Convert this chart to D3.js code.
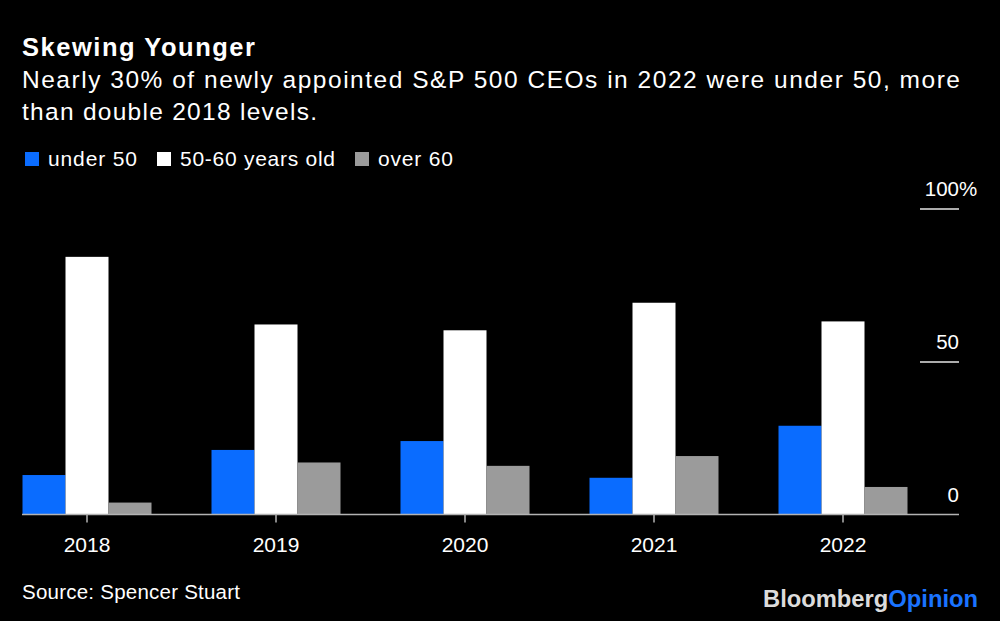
<!DOCTYPE html>
<html>
<head>
<meta charset="utf-8">
<script src="https://cdn.jsdelivr.net/npm/d3@7"></script>
<style>
  body { margin: 0; background: #000; }
  svg { display: block; font-family: "Liberation Sans", Arial, sans-serif; }
</style>
</head>
<body>
<div id="chart"></div>
<script>
// data (percent of newly appointed CEOs)
var years = ["2018", "2019", "2020", "2021", "2022"];
var seriesNames = ["under 50", "50-60 years old", "over 60"];
var under50 = [12.9, 21.1, 24.0, 12.0, 29.0];
var age50to60 = [84.2, 62.1, 60.2, 69.2, 63.1];
var over60 = [3.9, 17.0, 15.9, 19.1, 9.0];
var yTicks = [0, 50, 100];

var colors = ["#0a6cff", "#ffffff", "#9b9b9b"];

var width = 1000, height = 621;

var svg = d3.select("#chart")
    .append("svg")
    .attr("width", width)
    .attr("height", height);

svg.append("rect")
    .attr("width", width)
    .attr("height", height)
    .attr("fill", "#000");

// title + subtitle (widths stretched to match the wider original font)
svg.append("text")
    .attr("x", 22)
    .attr("y", 56)
    .attr("fill", "#fff")
    .attr("font-size", 25.5)
    .attr("font-weight", "bold")
    .attr("textLength", 233)
    .attr("lengthAdjust", "spacing")
    .text("Skewing Younger");

var subLines = ["Nearly 30% of newly appointed S&P 500 CEOs in 2022 were under 50, more",
                "than double 2018 levels."];
var subWidths = [938, 295];
svg.selectAll(".sub")
    .data(subLines)
    .enter().append("text")
    .attr("class", "sub")
    .attr("x", 22)
    .attr("y", function(d, i) { return 88 + i * 32; })
    .attr("fill", "#fff")
    .attr("font-size", 24.5)
    .attr("textLength", function(d, i) { return subWidths[i]; })
    .attr("lengthAdjust", "spacing")
    .text(function(d) { return d; });

// legend
var legendX = [25, 157, 355];
var legendW = [89, 155, 75];
var legend = svg.selectAll(".legend")
    .data(seriesNames)
    .enter().append("g")
    .attr("class", "legend")
    .attr("transform", function(d, i) { return "translate(" + legendX[i] + ",152)"; });

legend.append("rect")
    .attr("width", 14)
    .attr("height", 14)
    .attr("fill", function(d, i) { return colors[i]; });

legend.append("text")
    .attr("x", 23)
    .attr("y", 14)
    .attr("fill", "#fff")
    .attr("font-size", 21)
    .attr("textLength", function(d, i) { return legendW[i]; })
    .attr("lengthAdjust", "spacing")
    .text(function(d) { return d; });

// scales
var x0 = d3.scaleBand()
    .domain(years)
    .range([22.5, 907.5])
    .paddingInner(60 / 189)
    .paddingOuter(0);

var x1 = d3.scaleBand()
    .domain(seriesNames)
    .range([0, x0.bandwidth()]);

var y = d3.scaleLinear()
    .domain([0, 100])
    .range([514.5, 208.5]);

var table = years.map(function(yr, i) {
    return { year: yr, values: [under50[i], age50to60[i], over60[i]] };
});

// right axis: short grid lines with labels above
var yAxis = svg.append("g")
    .attr("class", "yAxis")
    .attr("transform", "translate(959,0)")
    .call(d3.axisRight(y).tickValues(yTicks).tickSize(-39).tickFormat(d3.format("d")));

yAxis.select(".domain").remove();
yAxis.selectAll(".tick line")
    .attr("stroke", function(d) { return d === 0 ? "none" : "#e6e6e6"; })
    .attr("stroke-width", 1.5);
yAxis.selectAll(".tick text")
    .attr("x", 0)
    .attr("dy", "-13px")
    .attr("text-anchor", "end")
    .attr("fill", "#fff")
    .attr("font-size", 20.5)
    .attr("font-family", "Liberation Sans, Arial, sans-serif");
yAxis.selectAll(".tick text")
    .filter(function(d) { return d === 100; })
    .append("tspan")
    .text("%");
// the "%" hangs past the right edge
yAxis.selectAll(".tick text")
    .filter(function(d) { return d === 100; })
    .attr("text-anchor", "start")
    .attr("x", function() { return -this.getComputedTextLength() + this.lastChild.getComputedTextLength(); });

// bars
var groups = svg.selectAll(".year")
    .data(table)
    .enter().append("g")
    .attr("class", "year")
    .attr("transform", function(d) { return "translate(" + x0(d.year) + ",0)"; });

groups.selectAll("rect")
    .data(function(d) { return d.values; })
    .enter().append("rect")
    .attr("x", function(d, i) { return x1(seriesNames[i]); })
    .attr("width", x1.bandwidth())
    .attr("y", function(d) { return y(d); })
    .attr("height", function(d) { return y(0) - y(d); })
    .attr("fill", function(d, i) { return colors[i]; });

// baseline
svg.append("line")
    .attr("x1", 22)
    .attr("x2", 959)
    .attr("y1", y(0))
    .attr("y2", y(0))
    .attr("stroke", "#b3b3b3")
    .attr("stroke-width", 1.5);

// x axis
var xAxis = svg.append("g")
    .attr("class", "xAxis")
    .attr("transform", "translate(0," + y(0) + ")")
    .call(d3.axisBottom(x0).tickSize(8).tickPadding(15));

xAxis.select(".domain").remove();
xAxis.selectAll(".tick line")
    .attr("stroke", "#b3b3b3")
    .attr("stroke-width", 1.5);
xAxis.selectAll(".tick text")
    .attr("fill", "#fff")
    .attr("font-size", 21)
    .attr("font-family", "Liberation Sans, Arial, sans-serif");

// source
svg.append("text")
    .attr("x", 22)
    .attr("y", 599)
    .attr("fill", "#fff")
    .attr("font-size", 20.5)
    .attr("textLength", 218)
    .attr("lengthAdjust", "spacing")
    .text("Source: Spencer Stuart");

// logo
var logo = svg.append("text")
    .attr("x", 763)
    .attr("y", 607)
    .attr("font-size", 23)
    .attr("font-weight", "bold")
    .attr("textLength", 215)
    .attr("lengthAdjust", "spacingAndGlyphs");
logo.append("tspan").attr("fill", "#dcdcdc").text("Bloomberg");
logo.append("tspan").attr("fill", "#1a73ff").text("Opinion");
</script>
</body>
</html>
